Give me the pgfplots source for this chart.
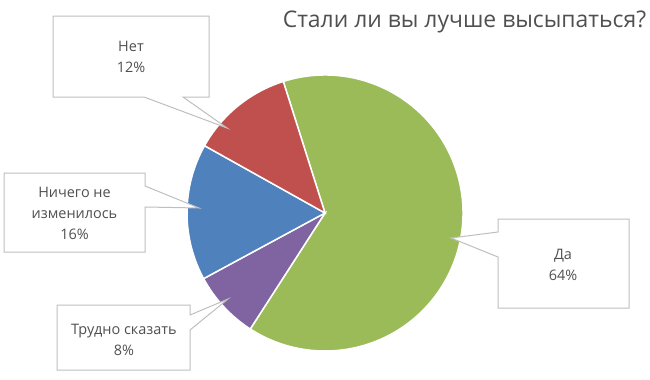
\documentclass[border=0pt]{standalone}
\usepackage{pgfplots}
\pgfplotsset{compat=1.18}
\usepackage{fontspec}
\setmainfont{Open Sans}
\definecolor{pgreen}{HTML}{9BBB59}
\definecolor{pred}{HTML}{C0504D}
\definecolor{pblue}{HTML}{4F81BD}
\definecolor{ppurple}{HTML}{8064A2}
\definecolor{txt}{HTML}{505050}
\definecolor{brd}{HTML}{BFBFBF}
\tikzset{box/.style={draw=brd, fill=white, line width=1bp},
  lbl/.style={text=txt, align=center, font=\fontsize{14.5}{21}\selectfont, inner sep=0pt}}
% values (percent)
\def\vDa{64}\def\vTrud{8}\def\vNich{16}\def\vNet{12}
\pgfmathsetmacro\aA{107.6}
\pgfmathsetmacro\aB{\aA-3.6*\vDa}
\pgfmathsetmacro\aC{\aB-3.6*\vTrud}
\pgfmathsetmacro\aD{\aC-3.6*\vNich}
\pgfmathsetmacro\aE{\aD-3.6*\vNet}
\begin{document}
\begin{tikzpicture}
\useasboundingbox (0,0) rectangle (650bp,380bp);
\begin{axis}[
  at={(0,0)}, anchor=south west,
  scale only axis, width=650bp, height=380bp,
  xmin=0, xmax=650, ymin=0, ymax=380, y dir=reverse,
  hide axis, clip=false,
]
\addplot[draw=none] coordinates {(0,0) (650,380)};
\fill[pgreen, draw=white, line width=1.5bp] (axis cs:325,213) -- ++(\aA:138bp) arc[start angle=\aA, end angle=\aB, radius=138bp] -- cycle;
\fill[ppurple, draw=white, line width=1.5bp] (axis cs:325,213) -- ++(\aB:138bp) arc[start angle=\aB, end angle=\aC, radius=138bp] -- cycle;
\fill[pblue, draw=white, line width=1.5bp] (axis cs:325,213) -- ++(\aC:138bp) arc[start angle=\aC, end angle=\aD, radius=138bp] -- cycle;
\fill[pred, draw=white, line width=1.5bp] (axis cs:325,213) -- ++(\aD:138bp) arc[start angle=\aD, end angle=\aE, radius=138bp] -- cycle;
% callout boxes
\path[box] (axis cs:53,16) -- (axis cs:209,16) -- (axis cs:209,97) -- (axis cs:183,97) -- (axis cs:227,128) -- (axis cs:144,97) -- (axis cs:53,97) -- cycle;
\path[box] (axis cs:4,173) -- (axis cs:145,173) -- (axis cs:145,186) -- (axis cs:199,208) -- (axis cs:145,207) -- (axis cs:145,252) -- (axis cs:4,252) -- cycle;
\path[box] (axis cs:57,305) -- (axis cs:190,305) -- (axis cs:190,315) -- (axis cs:228,299) -- (axis cs:190,330) -- (axis cs:190,370) -- (axis cs:57,370) -- cycle;
\path[box] (axis cs:498,219) -- (axis cs:629,219) -- (axis cs:629,308) -- (axis cs:498,308) -- (axis cs:498,257) -- (axis cs:451,238) -- (axis cs:498,232) -- cycle;
\node[lbl] at (axis cs:131,56.5) {Нет\\12\%};
\node[lbl] at (axis cs:74.5,213) {Ничего не\\изменилось\\16\%};
\node[lbl] at (axis cs:124,339.5) {Трудно сказать\\8\%};
\node[lbl] at (axis cs:563,265) {Да\\64\%};
\node[text=txt, font=\fontsize{23}{27}\selectfont] at (axis cs:464.5,22) {Стали ли вы лучше высыпаться?};
\end{axis}
\end{tikzpicture}
\end{document}
